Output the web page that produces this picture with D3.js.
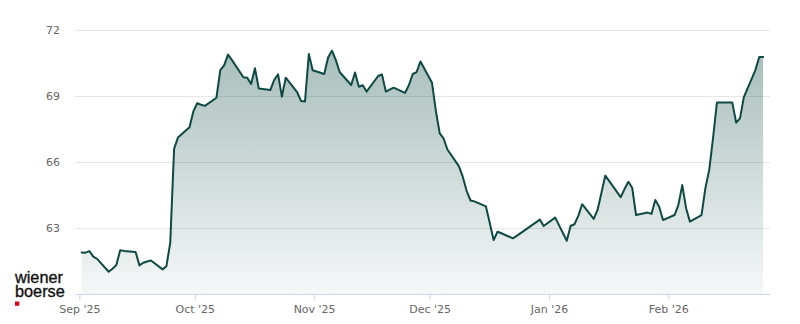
<!DOCTYPE html>
<html>
<head>
<meta charset="utf-8">
<script src="https://cdn.jsdelivr.net/npm/d3@7/dist/d3.min.js"></script>
<style>
  html, body { margin: 0; padding: 0; background: #fff; }
  svg { display: block; }
</style>
</head>
<body>
<svg id="chart" width="800" height="324"></svg>
<script>
const dates = [
  "2025-09-01","2025-09-02","2025-09-03","2025-09-04","2025-09-05",
  "2025-09-08","2025-09-09","2025-09-10","2025-09-11","2025-09-12",
  "2025-09-15","2025-09-16","2025-09-17","2025-09-18","2025-09-19",
  "2025-09-22","2025-09-23","2025-09-24","2025-09-25","2025-09-26",
  "2025-09-29","2025-09-30",
  "2025-10-01","2025-10-02","2025-10-03",
  "2025-10-06","2025-10-07","2025-10-08","2025-10-09","2025-10-10",
  "2025-10-13","2025-10-14","2025-10-15","2025-10-16","2025-10-17",
  "2025-10-20","2025-10-21","2025-10-22","2025-10-23","2025-10-24",
  "2025-10-27","2025-10-28","2025-10-29","2025-10-30","2025-10-31",
  "2025-11-03","2025-11-04","2025-11-05","2025-11-06","2025-11-07",
  "2025-11-10","2025-11-11","2025-11-12","2025-11-13","2025-11-14",
  "2025-11-17","2025-11-18","2025-11-19","2025-11-20","2025-11-21",
  "2025-11-24","2025-11-25","2025-11-26","2025-11-27","2025-11-28",
  "2025-12-01","2025-12-02","2025-12-03","2025-12-04","2025-12-05",
  "2025-12-08","2025-12-09","2025-12-10","2025-12-11","2025-12-12",
  "2025-12-15","2025-12-16","2025-12-17","2025-12-18","2025-12-19",
  "2025-12-22","2025-12-23","2025-12-29","2025-12-30",
  "2026-01-02",
  "2026-01-05","2026-01-06","2026-01-07","2026-01-08","2026-01-09",
  "2026-01-12","2026-01-13","2026-01-14","2026-01-15","2026-01-16",
  "2026-01-19","2026-01-20","2026-01-21","2026-01-22","2026-01-23",
  "2026-01-26","2026-01-27","2026-01-28","2026-01-29","2026-01-30",
  "2026-02-02","2026-02-03","2026-02-04","2026-02-05","2026-02-06",
  "2026-02-09","2026-02-10","2026-02-11","2026-02-12","2026-02-13",
  "2026-02-16","2026-02-17","2026-02-18","2026-02-19","2026-02-20",
  "2026-02-23","2026-02-24","2026-02-25"
];

const prices = [
  61.89,61.88,61.95,61.70,61.60,
  61.01,61.15,61.32,61.99,61.96,
  61.91,61.30,61.42,61.48,61.52,
  61.12,61.26,62.33,66.60,67.11,
  67.58,68.30,
  68.67,68.60,68.55,
  68.92,70.18,70.39,70.88,70.64,
  69.85,69.83,69.55,70.26,69.34,
  69.27,69.73,69.99,68.97,69.83,
  69.16,68.77,68.75,70.91,70.17,
  70.00,70.75,71.06,70.64,70.09,
  69.50,70.07,69.42,69.49,69.20,
  69.91,69.98,69.20,69.29,69.38,
  69.14,69.50,70.00,70.09,70.57,
  69.60,68.32,67.30,67.07,66.57,
  65.80,65.32,64.68,64.25,64.21,
  63.98,63.23,62.45,62.83,62.76,
  62.53,62.64,63.38,63.09,
  63.47,
  62.42,63.09,63.17,63.55,64.08,
  63.41,63.82,64.59,65.38,65.14,
  64.40,64.77,65.10,64.83,63.59,
  63.70,63.64,64.27,63.97,63.36,
  63.59,64.05,64.95,63.90,63.29,
  63.59,64.80,65.64,67.09,68.70,
  68.70,68.70,67.79,67.98,68.95,
  70.18,70.77,70.77
];

const yTickValues = [63, 66, 69, 72];
const yDomain = [60, 72];
const xDomain = ["2025-09-01", "2026-02-01"];
const monthTicks = ["2025-09-01","2025-10-01","2025-11-01","2025-12-01","2026-01-01","2026-02-01"];
const logoLines = ["wiener", "boerse"];

const parse = d3.utcParse("%Y-%m-%d");
const data = dates.map((d, i) => ({ date: d3.utcHour.offset(parse(d), 15), value: prices[i] }));

const plotLeft = 75, plotRight = 770, plotTop = 30, plotBottom = 294;

const svg = d3.select("#chart");

const x = d3.scaleUtc()
  .domain(xDomain.map(parse))
  .range([79.3, 668.3]);

const y = d3.scaleLinear()
  .domain(yDomain)
  .range([plotBottom, plotTop]);

const lineColor = "#0e4a43";

// gradient
const defs = svg.append("defs");
const grad = defs.append("linearGradient")
  .attr("id", "areaGrad")
  .attr("x1", 0).attr("y1", 0).attr("x2", 0).attr("y2", 1);
grad.append("stop").attr("offset", "0%").attr("stop-color", lineColor).attr("stop-opacity", 0.36);
grad.append("stop").attr("offset", "100%").attr("stop-color", lineColor).attr("stop-opacity", 0.04);

// grid lines
const grid = svg.append("g");
grid.selectAll("line")
  .data(yTickValues)
  .join("line")
  .attr("x1", plotLeft).attr("x2", plotRight)
  .attr("y1", d => Math.round(y(d)) + 0.5).attr("y2", d => Math.round(y(d)) + 0.5)
  .attr("stroke", "#e6e6e6").attr("stroke-width", 1);

// area
const area = d3.area()
  .x(d => x(d.date))
  .y0(plotBottom)
  .y1(d => y(d.value));
svg.append("path")
  .datum(data)
  .attr("d", area)
  .attr("fill", "url(#areaGrad)");

// line
const line = d3.line()
  .x(d => x(d.date))
  .y(d => y(d.value));
svg.append("path")
  .datum(data)
  .attr("d", line)
  .attr("fill", "none")
  .attr("stroke", lineColor)
  .attr("stroke-width", 2)
  .attr("stroke-linejoin", "round")
  .attr("stroke-linecap", "round");

// y axis labels
const yAxis = d3.axisLeft(y).tickValues(yTickValues).tickSize(0).tickFormat(d3.format("d"));
const yg = svg.append("g")
  .attr("transform", "translate(60,0)")
  .call(yAxis);
yg.select(".domain").remove();
yg.selectAll("text")
  .attr("x", 0)
  .attr("fill", "#666")
  .attr("font-family", "DejaVu Sans, sans-serif")
  .attr("font-size", 11);

// x axis
const xAxis = d3.axisBottom(x)
  .tickValues(monthTicks.map(parse))
  .tickSize(6)
  .tickPadding(5)
  .tickFormat(d3.utcFormat("%b '%y"));
const xg = svg.append("g")
  .attr("transform", `translate(0,${plotBottom})`)
  .call(xAxis);
xg.select(".domain").remove();
xg.append("line")
  .attr("x1", plotLeft).attr("x2", plotRight)
  .attr("y1", 0.5).attr("y2", 0.5)
  .attr("stroke", "#ccd6eb");
xg.selectAll(".tick line").attr("stroke", "#ccd6eb");
xg.selectAll("text")
  .attr("fill", "#666")
  .attr("font-family", "DejaVu Sans, sans-serif")
  .attr("font-size", 11);

// logo (one text block with two lines)
const logo = svg.append("g");
const logoText = logo.append("text")
  .attr("font-family", "Liberation Sans, Arial, sans-serif")
  .attr("font-size", 16.3)
  .attr("fill", "#111")
  .attr("stroke", "#111")
  .attr("stroke-width", 0.35);
logoText.selectAll("tspan")
  .data(logoLines)
  .join("tspan")
  .attr("x", 15)
  .attr("y", (d, i) => 282.7 + i * 14.6)
  .text(d => d);
logo.append("rect")
  .attr("x", 15).attr("y", 301.5)
  .attr("width", 4.3).attr("height", 4.3)
  .attr("fill", "#e2001a");
</script>
</body>
</html>
